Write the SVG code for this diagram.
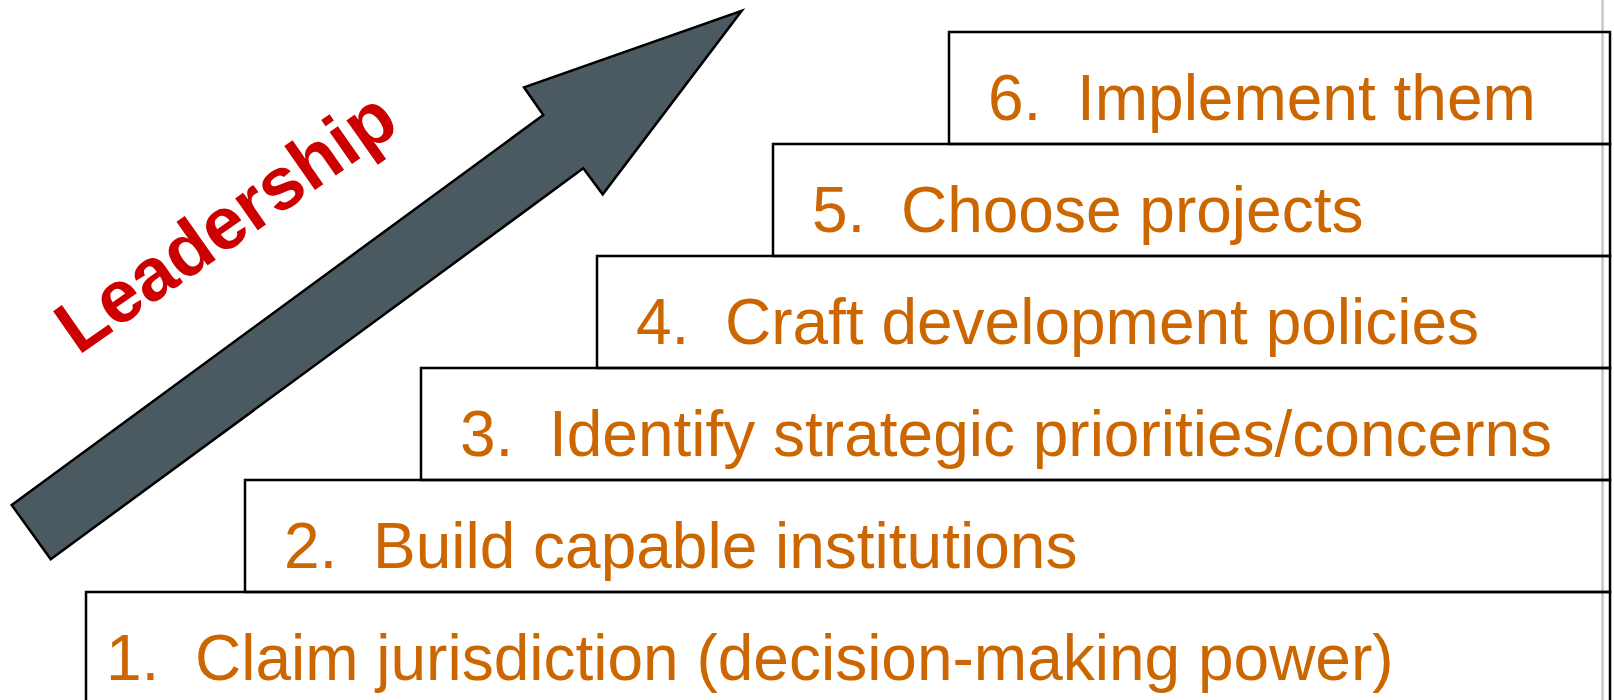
<svg xmlns="http://www.w3.org/2000/svg" width="1614" height="700" viewBox="0 0 1614 700">
  <style>
    .box { fill: none; stroke: #000; stroke-width: 2.5; }
    .step { font-family: "Liberation Sans", Arial, sans-serif; font-size: 64px; fill: #CC6600; white-space: pre; }
    .lead { font-family: "Liberation Sans", Arial, sans-serif; font-size: 74px; font-weight: bold; fill: #CC0000; }
    .arrow { fill: #4B5961; stroke: #000; stroke-width: 2.5; stroke-linejoin: miter; }
  </style>
  <rect x="0" y="0" width="1614" height="700" fill="#fff"/>
  <line x1="1602.5" y1="0" x2="1602.5" y2="700" stroke="#C8C8C0" stroke-width="2.5"/>
  <g id="step6">
    <rect class="box" x="949" y="32" width="661" height="112"/>
    <text class="step" x="988" y="120" xml:space="preserve">6.  Implement them</text>
  </g>
  <g id="step5">
    <rect class="box" x="773" y="144" width="837" height="112"/>
    <text class="step" x="812" y="232" xml:space="preserve">5.  Choose projects</text>
  </g>
  <g id="step4">
    <rect class="box" x="597" y="256" width="1013" height="112"/>
    <text class="step" x="636" y="344" xml:space="preserve">4.  Craft development policies</text>
  </g>
  <g id="step3">
    <rect class="box" x="421" y="368" width="1189" height="112"/>
    <text class="step" x="460" y="456" xml:space="preserve">3.  Identify strategic priorities/concerns</text>
  </g>
  <g id="step2">
    <rect class="box" x="245" y="480" width="1365" height="112"/>
    <text class="step" x="284" y="568" xml:space="preserve">2.  Build capable institutions</text>
  </g>
  <g id="step1">
    <rect class="box" x="86" y="592" width="1524" height="130"/>
    <text class="step" x="106" y="680" xml:space="preserve">1.  Claim jurisdiction (decision-making power)</text>
  </g>
  <g id="arrow">
    <polygon class="arrow" points="11.7,505 543.3,115 524,87.3 741.7,10.7 602.7,194.3 583.3,168.3 50.7,559.3"/>
  </g>
  <g id="leadership">
    <text class="lead" transform="translate(78.3,355.8) rotate(-35)">Leadership</text>
  </g>
</svg>
